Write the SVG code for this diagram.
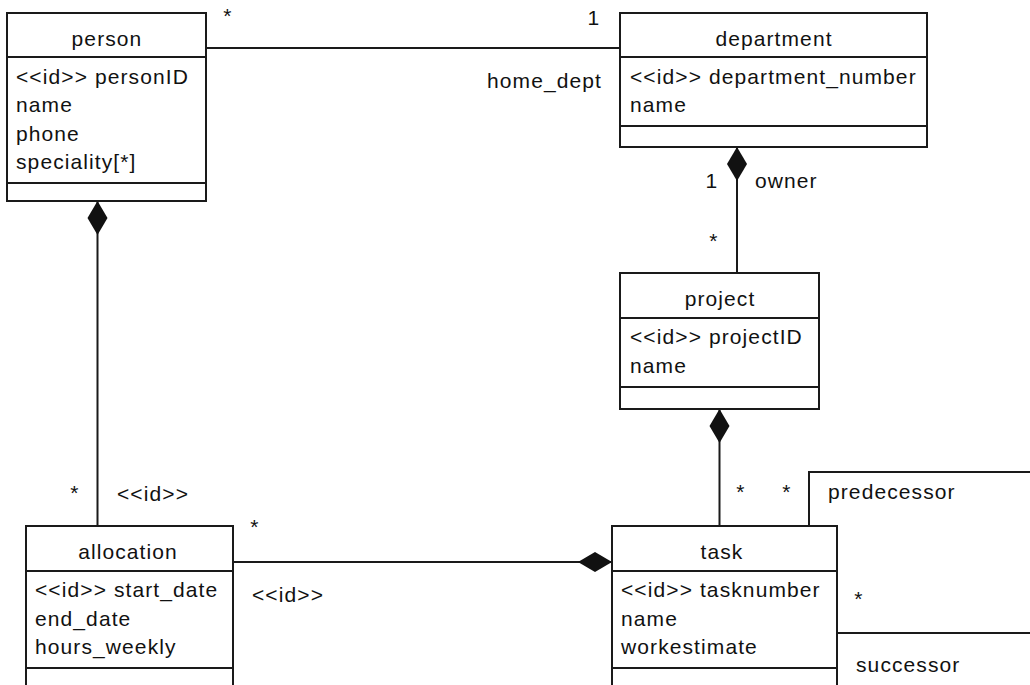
<svg xmlns="http://www.w3.org/2000/svg" width="1030" height="685" viewBox="0 0 1030 685">
  <style>
    .box { fill: #ffffff; stroke: #1a1a1a; stroke-width: 2; }
    .sep { stroke: #1a1a1a; stroke-width: 2; fill: none; }
    .conn { stroke: #1a1a1a; stroke-width: 2; fill: none; }
    .t { font-family: "Liberation Sans", Arial, sans-serif; font-size: 21px; letter-spacing: 1.1px; fill: #111111; }
    .c { text-anchor: middle; }
  </style>
  <defs>
    <marker id="diamond" markerUnits="userSpaceOnUse" markerWidth="36" markerHeight="22" refX="0" refY="10" orient="auto" viewBox="0 0 36 20" overflow="visible">
      <path d="M0,10 L17,0 L34,10 L17,20 Z" fill="#111111" stroke="none"/>
    </marker>
  </defs>
  <rect width="1030" height="685" fill="#ffffff"/>

  <g id="connectors">
    <line class="conn" x1="206" y1="48" x2="620" y2="48"/>
    <path class="conn" d="M737,147 L737,273" marker-start="url(#diamond)"/>
    <path class="conn" d="M719.5,409 L719.5,526" marker-start="url(#diamond)"/>
    <path class="conn" d="M97.5,201 L97.5,526" marker-start="url(#diamond)"/>
    <path class="conn" d="M612,562 L233,562" marker-start="url(#diamond)"/>
    <polyline class="conn" points="809,526 809,472 1031,472"/>
    <line class="conn" x1="837" y1="633" x2="1031" y2="633"/>
    <text class="t c" x="228" y="23">*</text>
    <text class="t c" x="594" y="25">1</text>
    <text class="t" x="487" y="88">home_dept</text>
    <text class="t c" x="712" y="188">1</text>
    <text class="t" x="755" y="188">owner</text>
    <text class="t c" x="714" y="248">*</text>
    <text class="t c" x="75" y="500">*</text>
    <text class="t" x="117" y="501">&lt;&lt;id&gt;&gt;</text>
    <text class="t c" x="255" y="534">*</text>
    <text class="t" x="252" y="602">&lt;&lt;id&gt;&gt;</text>
    <text class="t c" x="741" y="499">*</text>
    <text class="t c" x="787" y="499">*</text>
    <text class="t" x="828" y="499">predecessor</text>
    <text class="t c" x="859" y="606">*</text>
    <text class="t" x="856" y="672">successor</text>
  </g>

  <g id="person">
    <rect class="box" x="7" y="13" width="199" height="188"/>
    <line class="sep" x1="7" y1="57" x2="206" y2="57"/>
    <line class="sep" x1="7" y1="183" x2="206" y2="183"/>
    <text class="t c" x="107" y="46">person</text>
    <text class="t" x="16" y="83.5">&lt;&lt;id&gt;&gt; personID</text>
    <text class="t" x="16" y="112">name</text>
    <text class="t" x="16" y="140.5">phone</text>
    <text class="t" x="16" y="169">speciality[*]</text>
  </g>

  <g id="department">
    <rect class="box" x="620" y="13" width="307" height="134"/>
    <line class="sep" x1="620" y1="57" x2="927" y2="57"/>
    <line class="sep" x1="620" y1="126" x2="927" y2="126"/>
    <text class="t c" x="774" y="46">department</text>
    <text class="t" x="630" y="83.5">&lt;&lt;id&gt;&gt; department_number</text>
    <text class="t" x="630" y="112">name</text>
  </g>

  <g id="project">
    <rect class="box" x="620" y="273" width="199" height="136"/>
    <line class="sep" x1="620" y1="318" x2="819" y2="318"/>
    <line class="sep" x1="620" y1="387" x2="819" y2="387"/>
    <text class="t c" x="720" y="305.5">project</text>
    <text class="t" x="630" y="344">&lt;&lt;id&gt;&gt; projectID</text>
    <text class="t" x="630" y="373">name</text>
  </g>

  <g id="allocation">
    <rect class="box" x="26" y="526" width="207" height="175"/>
    <line class="sep" x1="26" y1="571" x2="233" y2="571"/>
    <line class="sep" x1="26" y1="668" x2="233" y2="668"/>
    <text class="t c" x="128" y="558.5">allocation</text>
    <text class="t" x="35" y="597">&lt;&lt;id&gt;&gt; start_date</text>
    <text class="t" x="35" y="625.5">end_date</text>
    <text class="t" x="35" y="654">hours_weekly</text>
  </g>

  <g id="task">
    <rect class="box" x="612" y="526" width="225" height="175"/>
    <line class="sep" x1="612" y1="571" x2="837" y2="571"/>
    <line class="sep" x1="612" y1="668" x2="837" y2="668"/>
    <text class="t c" x="722" y="558.5">task</text>
    <text class="t" x="621" y="597">&lt;&lt;id&gt;&gt; tasknumber</text>
    <text class="t" x="621" y="625.5">name</text>
    <text class="t" x="621" y="654">workestimate</text>
  </g>
</svg>
